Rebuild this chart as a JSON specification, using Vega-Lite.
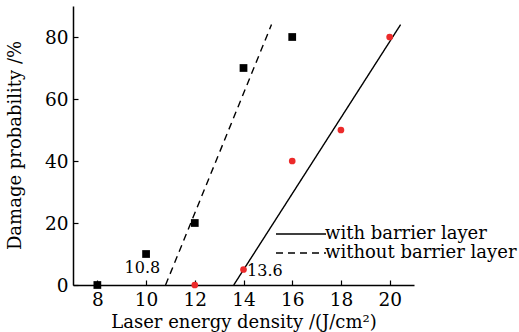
{
  "$schema": "https://vega.github.io/schema/vega-lite/v6.json",
  "width": 341,
  "height": 279,
  "autosize": {"type": "none"},
  "padding": {"left": 73, "top": 6, "right": 105, "bottom": 47},
  "background": "white",
  "config": {
    "view": {"stroke": null},
    "font": "DejaVu Serif",
    "axis": {
      "domainColor": "black",
      "domainWidth": 1.5,
      "tickColor": "black",
      "tickWidth": 1.2,
      "tickSize": -5,
      "labelPadding": 10,
      "labelColor": "black",
      "labelFont": "DejaVu Serif",
      "labelFontSize": 18.5,
      "titleColor": "black",
      "titleFont": "DejaVu Serif",
      "titleFontSize": 18,
      "titleFontWeight": "normal",
      "grid": false
    }
  },
  "datasets": {
    "pts": [
      {"x": 8, "y": 0, "group": "without barrier layer"},
      {"x": 10, "y": 10, "group": "without barrier layer"},
      {"x": 12, "y": 20, "group": "without barrier layer"},
      {"x": 14, "y": 70, "group": "without barrier layer"},
      {"x": 16, "y": 80, "group": "without barrier layer"},
      {"x": 12, "y": 0, "group": "with barrier layer"},
      {"x": 14, "y": 5, "group": "with barrier layer"},
      {"x": 16, "y": 40, "group": "with barrier layer"},
      {"x": 18, "y": 50, "group": "with barrier layer"},
      {"x": 20, "y": 80, "group": "with barrier layer"}
    ],
    "fits": [
      {"x": 13.6, "y": 0, "group": "with barrier layer"},
      {"x": 20.45, "y": 84, "group": "with barrier layer"},
      {"x": 10.8, "y": 0, "group": "without barrier layer"},
      {"x": 15.15, "y": 84, "group": "without barrier layer"}
    ],
    "notes": [
      {"x": 9.85, "y": 3.9, "label": "10.8"},
      {"x": 14.88, "y": 2.9, "label": "13.6"}
    ]
  },
  "layer": [
    {
      "data": {"name": "fits"},
      "mark": {"type": "line", "color": "black", "strokeWidth": 1.4},
      "encoding": {
        "x": {
          "field": "x", "type": "quantitative",
          "scale": {"domain": [7, 21], "nice": false, "zero": false},
          "axis": {
            "title": "Laser energy density /(J/cm²)",
            "values": [8, 9, 10, 11, 12, 13, 14, 15, 16, 17, 18, 19, 20],
            "labelExpr": "datum.value % 2 == 0 ? datum.label : ''",
            "titleY": 42,
            "titleBaseline": "alphabetic"
          }
        },
        "y": {
          "field": "y", "type": "quantitative",
          "scale": {"domain": [0, 90], "nice": false},
          "axis": {
            "title": "Damage probability /%",
            "values": [0, 10, 20, 30, 40, 50, 60, 70, 80],
            "labelExpr": "datum.value % 20 == 0 ? datum.label : ''",
            "titleX": -58,
            "titleY": 139,
            "titleBaseline": "middle"
          }
        },
        "detail": {"field": "group"},
        "strokeDash": {
          "field": "group", "type": "nominal",
          "scale": {"domain": ["with barrier layer", "without barrier layer"], "range": [[1, 0], [7, 5]]},
          "legend": {
            "title": null,
            "orient": "none",
            "legendX": 203,
            "legendY": 219,
            "symbolType": "M-5,0H5",
            "symbolSize": 100,
            "symbolOffset": 16,
            "symbolStrokeColor": "black",
            "symbolStrokeWidth": 1.4,
            "labelFont": "DejaVu Serif",
            "labelFontSize": 18,
            "labelColor": "black",
            "labelOffset": 15,
            "labelLimit": 400,
            "padding": 0,
            "rowPadding": 1
          }
        }
      }
    },
    {
      "data": {"name": "pts"},
      "transform": [{"filter": "datum.group == 'without barrier layer'"}],
      "mark": {"type": "square", "filled": true, "color": "black", "size": 60, "opacity": 1},
      "encoding": {
        "x": {"field": "x", "type": "quantitative"},
        "y": {"field": "y", "type": "quantitative"}
      }
    },
    {
      "data": {"name": "pts"},
      "transform": [{"filter": "datum.group == 'with barrier layer'"}],
      "mark": {"type": "circle", "color": "#ec2a2a", "size": 45, "opacity": 1},
      "encoding": {
        "x": {"field": "x", "type": "quantitative"},
        "y": {"field": "y", "type": "quantitative"}
      }
    },
    {
      "data": {"name": "notes"},
      "mark": {"type": "text", "font": "DejaVu Serif", "fontSize": 16, "color": "black", "align": "center", "baseline": "alphabetic"},
      "encoding": {
        "x": {"field": "x", "type": "quantitative"},
        "y": {"field": "y", "type": "quantitative"},
        "text": {"field": "label"}
      }
    }
  ]
}
